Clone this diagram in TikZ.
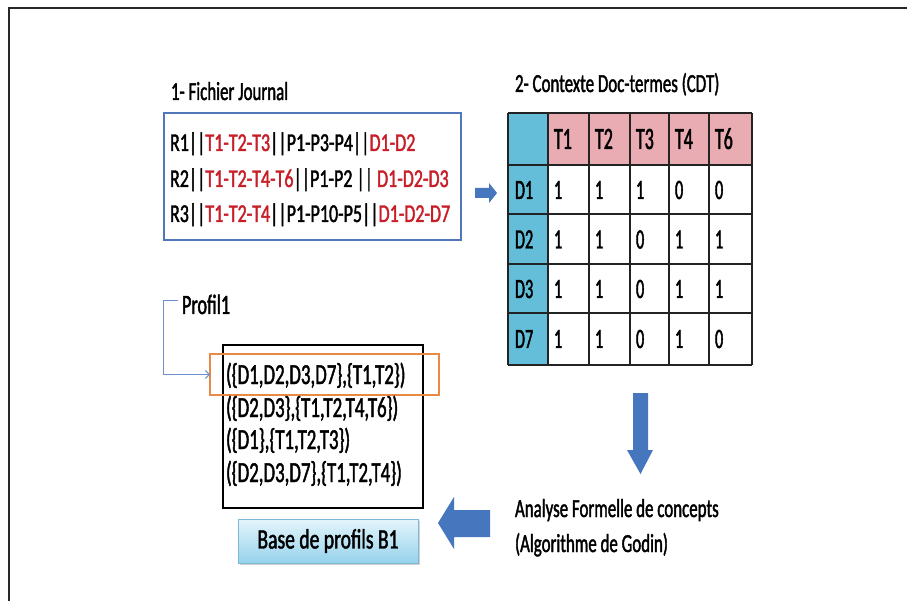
\documentclass[tikz,border=0pt]{standalone}
\usepackage{fontspec}
\setmainfont[FakeStretch=0.7,FakeBold=1.5]{Carlito}
\newfontfamily\narrowA[FakeStretch=0.7,FakeBold=1.5]{Carlito}
\newfontfamily\narrowB[FakeStretch=0.65,FakeBold=1.5]{Carlito}
\newfontfamily\narrowC[FakeStretch=0.58,FakeBold=1.5]{Carlito}
\usetikzlibrary{arrows.meta,shadows}

\definecolor{framegray}{RGB}{40,40,40}
\definecolor{txtred}{RGB}{200,30,40}
\definecolor{boxblue}{RGB}{79,119,185}
\definecolor{colblue}{RGB}{100,190,218}
\definecolor{hdrpink}{RGB}{232,172,178}
\definecolor{gridc}{RGB}{35,35,35}
\definecolor{arrblue}{RGB}{70,118,190}
\definecolor{linkblue}{RGB}{110,145,205}
\definecolor{selorange}{RGB}{232,138,70}
\definecolor{basetop}{RGB}{228,245,252}
\definecolor{basebot}{RGB}{150,210,236}
\definecolor{baseedge}{RGB}{125,185,215}

\newcommand{\rd}[1]{\textcolor{txtred}{#1}}

\begin{document}
\begin{tikzpicture}[x=1pt,y=-1pt,
  every node/.style={inner sep=0pt,outer sep=0pt},
  stepfont/.style={font=\narrowB\fontsize{26}{30}\selectfont},
  rowfont/.style={font=\narrowA\fontsize{25.7}{30}\selectfont},
  headfont/.style={font=\narrowC\fontsize{31}{34}\selectfont},
  cellfont/.style={font=\narrowC\fontsize{28}{32}\selectfont},
  proffont/.style={font=\narrowB\fontsize{29}{32}\selectfont},
  labelfont/.style={font=\narrowB\fontsize{28}{32}\selectfont},
  basefont/.style={font=\narrowA\fontsize{28}{32}\selectfont},
  blockarrow/.style={fill=arrblue},
  link/.style={draw=linkblue,line width=1pt,-{Straight Barb[length=4pt,width=8pt]}}]

\useasboundingbox (0,0) rectangle (907,601);
\fill[white] (0,0) rectangle (907,601);
% outer frame (top and left edges)
\draw[framegray,line width=1.6pt] (9,601) -- (9,8) -- (907,8);

% ---- 1: log file ----
\node[stepfont,anchor=base west] (jtitle) at (171,100) {1- Fichier Journal};
\node[draw=boxblue,line width=1.8pt,minimum width=297,minimum height=127,anchor=north west] (jbox) at (164,113) {};
\node[rowfont,anchor=base west] (r1) at (170,151) {R1||\rd{T1-T2-T3}||P1-P3-P4||\rd{D1-D2}};
\node[rowfont,anchor=base west] (r2) at (170,187) {R2||\rd{T1-T2-T4-T6}||P1-P2 || \rd{D1-D2-D3}};
\node[rowfont,anchor=base west] (r3) at (170,222) {R3||\rd{T1-T2-T4}||P1-P10-P5||\rd{D1-D2-D7}};

% arrow to the context table
\fill[blockarrow] (475,188) -- (489,188) -- (489,183) -- (497,193) -- (489,203) -- (489,198) -- (475,198) -- cycle;

% ---- 2: document-term context ----
\node[stepfont,anchor=base west] (ctitle) at (515,92) {2- Contexte Doc-termes (CDT)};
\fill[hdrpink] (548,113) rectangle (752,165);
\fill[colblue] (508,113) rectangle (548,365);
\foreach \x in {508,548,589,630,669,709,752}
  \draw[gridc,line width=1.5pt] (\x,113) -- (\x,365);
\foreach \y in {113,165,214,264,313,365}
  \draw[gridc,line width=1.5pt] (508,\y) -- (752,\y);
% header
\foreach \t/\x [count=\i] in {T1/548,T2/589,T3/630,T4/669,T6/709}
  \node[headfont,anchor=base west] (h\i) at (\x+6,149) {\t};
% rows
\foreach \d/\y/\vals [count=\r] in {D1/199/{1,1,1,0,0},D2/248.5/{1,1,0,1,1},D3/298/{1,1,0,1,1},D7/348/{1,1,0,1,0}}{
  \node[cellfont,anchor=base west] (d\r) at (515,\y) {\d};
  \foreach \v [count=\c] in \vals {
    \pgfmathsetmacro{\cx}{{548,589,630,669,709}[\c-1]}
    \node[cellfont,anchor=base west] (v\r\c) at (\cx+6,\y) {\v};
  }
}

% arrow down to the analysis step
\fill[blockarrow] (633,393) -- (648,393) -- (648,450) -- (653,450) -- (640.5,474) -- (627,450) -- (633,450) -- cycle;

\node[stepfont,anchor=base west] (afc1) at (515,517) {Analyse Formelle de concepts};
\node[stepfont,anchor=base west] (afc2) at (515,552) {(Algorithme de Godin)};

% arrow back to the profile base
\fill[blockarrow] (490,510) -- (454,510) -- (454,497) -- (438,523) -- (454,549) -- (454,537) -- (490,537) -- cycle;

% ---- profile base ----
\node[draw=black,line width=2pt,minimum width=200,minimum height=163,anchor=north west] (pbox) at (223,345) {};
\node[draw=selorange,line width=2pt,minimum width=229,minimum height=41,anchor=north west] (sel) at (210,354) {};
\node[proffont,anchor=base west] (p1) at (226,384) {(\{D1,D2,D3,D7\},\{T1,T2\})};
\node[proffont,anchor=base west] (p2) at (226,417) {(\{D2,D3\},\{T1,T2,T4,T6\})};
\node[proffont,anchor=base west] (p3) at (226,449) {(\{D1\},\{T1,T2,T3\})};
\node[proffont,anchor=base west] (p4) at (226,482) {(\{D2,D3,D7\},\{T1,T2,T4\})};

\node[labelfont,anchor=base west] (plabel) at (182,314) {Profil1};
\draw[link] (plabel.west) ++(-4,-4) -- ++(-15,0) |- (sel.west);

\node[draw=baseedge,line width=1pt,minimum width=180,minimum height=44,anchor=north west,
  top color=basetop,bottom color=basebot,
  drop shadow={shadow xshift=2pt,shadow yshift=-2pt,fill=black!35}] (base) at (238,519) {};
\node[basefont] (basetxt) at (base.center) {Base de profils B1};

\end{tikzpicture}
\end{document}
